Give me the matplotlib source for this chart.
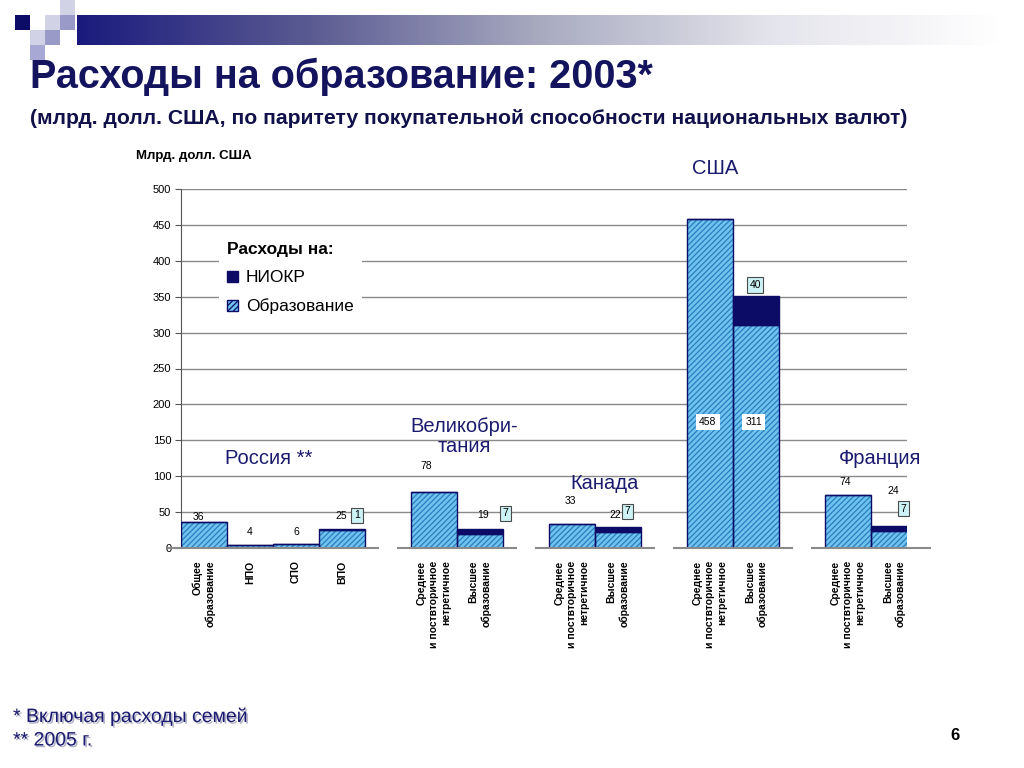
"""
Education spending chart, 2003 (PPP, bn USD), recreated from a slide.
"""

import numpy as np
import matplotlib
matplotlib.use("Agg")
import matplotlib.pyplot as plt
import matplotlib.patheffects as pe
from matplotlib.patches import Patch, Rectangle
from matplotlib.colors import LinearSegmentedColormap

# ---- data ----
countries = ["Россия **", "Великобри-\nтания", "Канада", "США", "Франция"]
group_sizes = [4, 2, 2, 2, 2]
bar_labels = [
    "Общее\nобразование", "НПО", "СПО", "ВПО",
    "Среднее\nи поствторичное\nнетретичное", "Высшее\nобразование",
    "Среднее\nи поствторичное\nнетретичное", "Высшее\nобразование",
    "Среднее\nи поствторичное\nнетретичное", "Высшее\nобразование",
    "Среднее\nи поствторичное\nнетретичное", "Высшее\nобразование",
]
education = [36, 4, 6, 25, 78, 19, 33, 22, 458, 311, 74, 24]
niokr = [0, 0, 0, 1, 0, 7, 0, 7, 0, 40, 0, 7]
yticks = list(range(0, 501, 50))

# ---- styles ----
NAVY = "#0c0c66"
TITLE_NAVY = "#14145e"
LIGHT = "#6ec4ee"
HATCH = "#2c7cc0"
GRID = "#8a8a8a"
plt.rcParams["font.family"] = ["Liberation Sans", "DejaVu Sans"]
plt.rcParams["hatch.linewidth"] = 0.9

# label offsets in pixels relative to the top of each stack (layout only)
edu_label_off = [(-6, 5), (0, 13), (0, 12), (-1, 13), (-8, 26), (3, 14),
                 (-2, 23), (-3, 12), None, None, (-3, 13), (-1, 35)]
niokr_box_off = [None, None, None, (15, 14), None, (25, 16),
                 None, (9, 16), None, (-1, 11), None, (9, 17)]
country_pos = [(-0.1, 124), (0.15, 155), (0.2, 90), (-0.4, 528), (0.2, 124)]

# bar positions: groups separated by one empty slot
x = []
group_centers = []
pos = 0
for n in group_sizes:
    x.extend(range(pos, pos + n))
    group_centers.append(pos + n / 2)
    pos += n + 1
x = np.array(x, dtype=float) + 0.5
education = np.array(education)
niokr = np.array(niokr)

fig = plt.figure(figsize=(10.24, 7.68), dpi=100)

# ---- decorative header ----
band = fig.add_axes([77 / 1024, 1 - 45 / 768, 925 / 1024, 30 / 768])
cmap = LinearSegmentedColormap.from_list(
    "band", ["#1a1a7e", "#5a5a92", "#a8aac0", "#e4e4ec", "#ffffff"])
band.imshow(np.linspace(0, 1, 256)[None, :], aspect="auto", cmap=cmap)
band.axis("off")
squares = [(15, 15, NAVY), (45, 15, "#d2d2e6"), (60, 0, "#d2d2e6"),
           (60, 15, "#9a9ac8"), (30, 30, "#d2d2e6"), (45, 30, "#9a9ac8"),
           (30, 45, "#a8a8d4")]
for sx, sy, c in squares:
    fig.patches.append(Rectangle((sx / 1024, 1 - (sy + 15) / 768), 15 / 1024,
                                 15 / 768, transform=fig.transFigure,
                                 facecolor=c, edgecolor="none"))

fig.text(30 / 1024, 1 - 77 / 768, "Расходы на образование: 2003*",
         fontsize=28.5, fontweight="bold", color=TITLE_NAVY, va="center")
fig.text(30 / 1024, 1 - 119 / 768,
         "(млрд. долл. США, по паритету покупательной способности национальных валют)",
         fontsize=15.2, fontweight="bold", color="#10104a", va="center")
fig.text(136 / 1024, 1 - 156 / 768, "Млрд. долл. США", fontsize=9.5,
         fontweight="bold", va="center")

# ---- chart ----
ax = fig.add_axes([181 / 1024, 220 / 768, 726 / 1024, 359 / 768])
ax.set_xlim(0, 15.78)
ax.set_ylim(0, 500)

for yv in yticks[1:]:
    ax.axhline(yv, color=GRID, lw=1, zorder=0)

ax.bar(x, education, width=1, color=LIGHT, edgecolor=HATCH, hatch="//////",
       lw=0, zorder=2)
ax.bar(x, education, width=1, fill=False, edgecolor=NAVY, lw=1, zorder=3)
ax.bar(x, niokr, bottom=education, width=1, color=NAVY, edgecolor=NAVY,
       lw=1, zorder=3)

# baseline segments per group
start = 0
for n in group_sizes:
    ax.plot([start - 0.3, start + n + 0.3], [0, 0], color=GRID, lw=1.5,
            zorder=4, clip_on=False, solid_capstyle="butt")
    start += n + 1

# value labels
for i in range(len(x)):
    top = education[i] + niokr[i]
    if edu_label_off[i] is None:
        ax.text(x[i] - 0.05, 175, str(education[i]), fontsize=7.5, ha="center",
                va="center", zorder=5,
                bbox=dict(boxstyle="square,pad=0.3", fc="white", ec="none"))
    else:
        ax.annotate(str(education[i]), (x[i], top),
                    xytext=edu_label_off[i], textcoords="offset pixels",
                    fontsize=7.5, ha="center", va="center", zorder=5)
    if niokr_box_off[i] is not None:
        ax.annotate(str(niokr[i]), (x[i], top),
                    xytext=niokr_box_off[i], textcoords="offset pixels",
                    fontsize=7.5, ha="center", va="center", zorder=5,
                    bbox=dict(boxstyle="square,pad=0.25", fc="#ccf2f6",
                              ec="#4a4a4a", lw=0.8))

# country names
for name, gc, (dx, yv) in zip(countries, group_centers, country_pos):
    ax.text(gc + dx, yv, name, fontsize=14.5, color="#1a1a6e", ha="center",
            va="center", linespacing=1.05, clip_on=False)

ax.set_yticks(yticks)
ax.tick_params(axis="y", labelsize=8, length=4, color="#555555", pad=3)
ax.set_xticks(x)
ax.set_xticklabels(bar_labels, rotation=90, fontsize=7.5, fontweight="bold",
                   ha="center", va="top", linespacing=1.25)
for lbl in ax.get_xticklabels():
    lbl.set_multialignment("right")
ax.tick_params(axis="x", length=0, pad=9)
for side in ["top", "right", "bottom"]:
    ax.spines[side].set_visible(False)
ax.spines["left"].set_color("#555555")

leg_handles = [Patch(facecolor=NAVY, edgecolor=NAVY),
               Patch(facecolor=LIGHT, edgecolor=NAVY, hatch="//////")]
leg = ax.legend(leg_handles, ["НИОКР", "Образование"], title="Расходы на:",
                loc="upper left", bbox_to_anchor=(0.04, 0.9), fontsize=12.5,
                title_fontproperties={"weight": "bold", "size": 12.5},
                alignment="left", frameon=True, framealpha=1, edgecolor="none",
                fancybox=False, handlelength=0.6, handleheight=0.6,
                handletextpad=0.45, labelspacing=0.75, borderpad=0.5)
leg.set_zorder(6)

# ---- footnotes ----
shadow = [pe.withSimplePatchShadow(offset=(1.2, -1.2), shadow_rgbFace="#8080a0",
                                   alpha=0.6)]
fig.text(13 / 1024, 1 - 717 / 768, "* Включая расходы семей", fontsize=14,
         color="#1a1a70", va="center", path_effects=shadow)
fig.text(13 / 1024, 1 - 741 / 768, "** 2005 г.", fontsize=14,
         color="#1a1a70", va="center", path_effects=shadow)
fig.text(955 / 1024, 1 - 736 / 768, "6", fontsize=12, fontweight="bold",
         va="center", ha="center")

plt.savefig("out.png", dpi=100)
